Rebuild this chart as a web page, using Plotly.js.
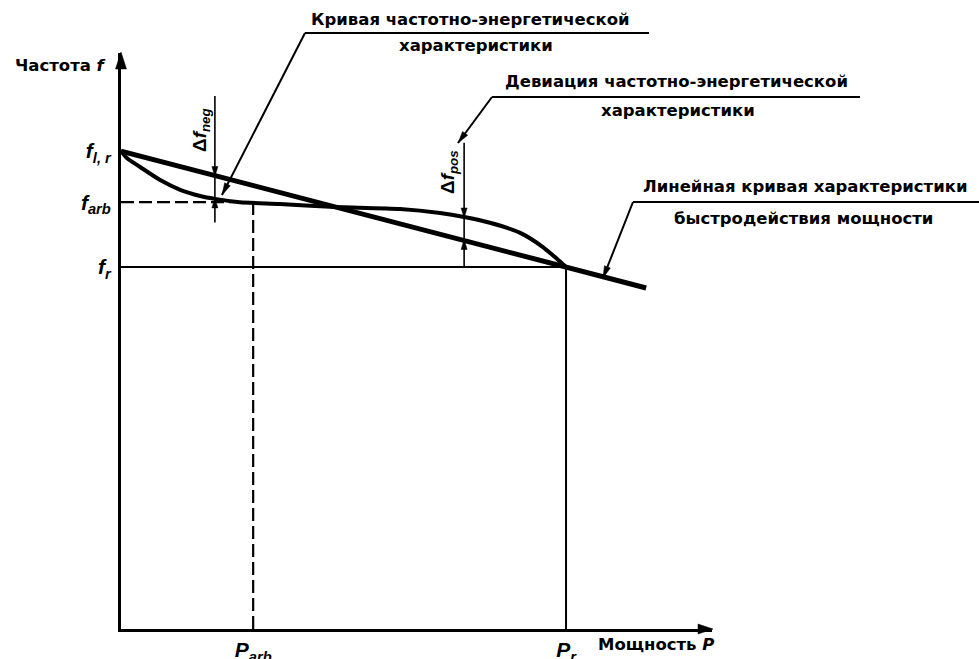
<!DOCTYPE html>
<html><head><meta charset="utf-8">
<script src="https://cdn.plot.ly/plotly-3.0.1.min.js"></script>
<style>html,body{margin:0;padding:0;background:#fff}</style>
</head><body><div id="chart" style="width:979px;height:659px"></div>
<script>
// ---- values (arbitrary schematic units) ----
const P_arb = 29.7;
const P_r = 100;
const f_lr = 132;
const f_arb = 117.9;
const f_r = 100;
const linearP = [0, 100, 118];
const linearF = [132, 100, 94.2];
const curveP = [0, 1.3, 4.3, 8.8, 13.3, 17.8, 21.1, 26.7, 35.7, 47.0, 62.7, 71.7, 77.1, 82.9, 89.7, 94.8, 98.0, 100];
const curveF = [132, 130.1, 127.6, 124.0, 121.3, 119.6, 118.8, 117.9, 117.4, 116.6, 116.0, 114.9, 113.8, 112.2, 109.4, 105.5, 102.2, 100];
const dfNegP = 21.1;
const dfPosP = 77.1;
const yTickVals = [f_r, f_arb, f_lr];
const yTickText = ['<i>f</i><sub><i>r</i></sub>', '<i>f</i><sub><i>arb</i></sub>', '<i>f</i><sub><i>l, r</i></sub>'];
const xTickVals = [P_arb, P_r];
const xTickText = ['<i>P</i><sub><i>arb</i></sub>', '<i>P</i><sub><i>r</i></sub>'];

// ---- layout geometry (pixels) ----
const L = 121, R = 712, T = 53, B = 629;
const X_MAX = 132.8, Y_MAX = 159.1;
const FONT = 'DejaVu Sans, Liberation Sans, sans-serif';
const TFONT = 'Liberation Sans, Arial, sans-serif';
const xp = px => (px - L) / (R - L);
const yp = py => (B - py) / (B - T);
const d2px = x => L + x / X_MAX * (R - L);
const d2py = y => B - y / Y_MAX * (B - T);

function interp(xs, ys, x) {
  for (let i = 0; i < xs.length - 1; i++) {
    if (x >= xs[i] && x <= xs[i + 1]) {
      const t = (x - xs[i]) / (xs[i + 1] - xs[i]);
      return ys[i] + t * (ys[i + 1] - ys[i]);
    }
  }
  return ys[ys.length - 1];
}

const blk = '#000';
const line = (x, y, w, dash, shape) => ({
  type: 'scatter', mode: 'lines', x, y, hoverinfo: 'skip', showlegend: false,
  line: {color: blk, width: w, dash: dash || 'solid', shape: shape || 'linear', smoothing: 0.6}
});

const negLin = interp(linearP, linearF, dfNegP), negCur = interp(curveP, curveF, dfNegP);
const posLin = interp(linearP, linearF, dfPosP), posCur = interp(curveP, curveF, dfPosP);

const traces = [
  line([0, P_arb], [f_arb, f_arb], 2.2, '13px,5px'),
  line([P_arb, P_arb], [0, f_arb], 2.2, '13px,5px'),
  line([0, P_r], [f_r, f_r], 2),
  line([P_r, P_r], [0, f_r], 2),
  line([dfNegP, dfNegP], [negLin + 22, negCur - 6.5], 1.6),
  line([dfPosP, dfPosP], [posCur + 20.5, f_r], 1.6),
  line(curveP, curveF, 4, 'solid', 'spline'),
  line(linearP, linearF, 5)
];

// ---- shapes: leader lines and arrowheads (pixel geometry -> paper) ----
const shapes = [];
function seg(x0, y0, x1, y1, w) {
  shapes.push({type: 'line', xref: 'paper', yref: 'paper', x0: xp(x0), y0: yp(y0), x1: xp(x1), y1: yp(y1),
    line: {color: blk, width: w}, layer: 'above'});
}
function head(tx, ty, fx, fy, len, hw) {
  const dx = tx - fx, dy = ty - fy, n = Math.hypot(dx, dy) || 1;
  const ux = dx / n, uy = dy / n;
  const bx = tx - ux * len, by = ty - uy * len;
  const p1 = [bx - uy * hw, by + ux * hw], p2 = [bx + uy * hw, by - ux * hw];
  shapes.push({type: 'path', xref: 'paper', yref: 'paper', layer: 'above',
    path: `M${xp(tx)},${yp(ty)} L${xp(p1[0])},${yp(p1[1])} L${xp(p2[0])},${yp(p2[1])} Z`,
    fillcolor: blk, line: {color: blk, width: 0.5}});
}
function arrow(tx, ty, fx, fy, w, len, hw) { seg(fx, fy, tx, ty, w); head(tx, ty, fx, fy, len, hw); }

// axis arrowheads
head(d2px(0), T - 1, d2px(0), T + 20, 17, 5.5);
head(R + 1, d2py(0), R - 20, d2py(0), 15, 5);
// delta arrows (tips on the lines)
head(d2px(dfNegP), d2py(negLin) + 1, d2px(dfNegP), d2py(negLin) - 10, 10, 3);
head(d2px(dfNegP), d2py(negCur) - 1, d2px(dfNegP), d2py(negCur) + 10, 10, 3);
head(d2px(dfPosP), d2py(posCur) + 1, d2px(dfPosP), d2py(posCur) - 10, 10, 3);
head(d2px(dfPosP), d2py(posLin) - 1, d2px(dfPosP), d2py(posLin) + 10, 10, 3);
// leaders: tip, tail at underline start, underline end
function leader(tipX, tipY, tailX, tailY, lineEnd) {
  arrow(tipX, tipY, tailX, tailY, 2, 12, 3.2);
  seg(tailX, tailY, lineEnd, tailY, 2);
}
leader(222, 195, 305, 33, 649);
leader(458, 143, 492, 97, 860);
leader(603, 278, 633, 202, 979);

// ---- texts ----
const ann = [];
const txt = (s, cx, cy, opts) => Object.assign({xref: 'paper', yref: 'paper', x: xp(cx), y: yp(cy), text: s, showarrow: false,
  xanchor: 'center', yanchor: 'middle', font: {family: FONT, size: 16.5, color: blk, weight: 'bold'}}, opts || {});
ann.push(txt('Кривая частотно-энергетической', 470, 19));
ann.push(txt('характеристики', 476, 45));
ann.push(txt('Девиация частотно-энергетической', 676, 81));
ann.push(txt('характеристики', 678, 110));
ann.push(txt('Линейная кривая характеристики', 805, 187));
ann.push(txt('быстродействия мощности', 803, 218));
ann.push(txt('Частота <i>f</i>', 60, 66, {font: {family: FONT, size: 16.5, color: blk, weight: 'bold'}}));
ann.push(txt('Мощность <i>P</i>', 656, 644, {font: {family: FONT, size: 16.5, color: blk, weight: 'bold'}}));
ann.push(txt('Δ<i>f</i><sub><i>neg</i></sub>', 201, 130, {textangle: -90, font: {family: TFONT, size: 19, color: blk, weight: 'bold'}}));
ann.push(txt('Δ<i>f</i><sub><i>pos</i></sub>', 449, 172, {textangle: -90, font: {family: TFONT, size: 19, color: blk, weight: 'bold'}}));

const axBase = {showgrid: false, zeroline: false, showline: true, linewidth: 3, linecolor: blk, ticks: '',
  tickfont: {family: TFONT, size: 21, color: blk, weight: 'bold'}, fixedrange: true};

const layout = {
  width: 979, height: 659,
  margin: {l: L, r: 979 - R, t: T, b: 659 - B, pad: 0},
  paper_bgcolor: '#fff', plot_bgcolor: '#fff',
  showlegend: false,
  xaxis: Object.assign({}, axBase, {range: [0, X_MAX], tickvals: xTickVals, ticktext: xTickText, ticklabelstandoff: 0}),
  yaxis: Object.assign({}, axBase, {range: [0, Y_MAX], tickvals: yTickVals, ticktext: yTickText, ticklabelstandoff: 3}),
  shapes: shapes,
  annotations: ann
};

Plotly.newPlot('chart', traces, layout, {displayModeBar: false, staticPlot: true});
</script></body></html>
